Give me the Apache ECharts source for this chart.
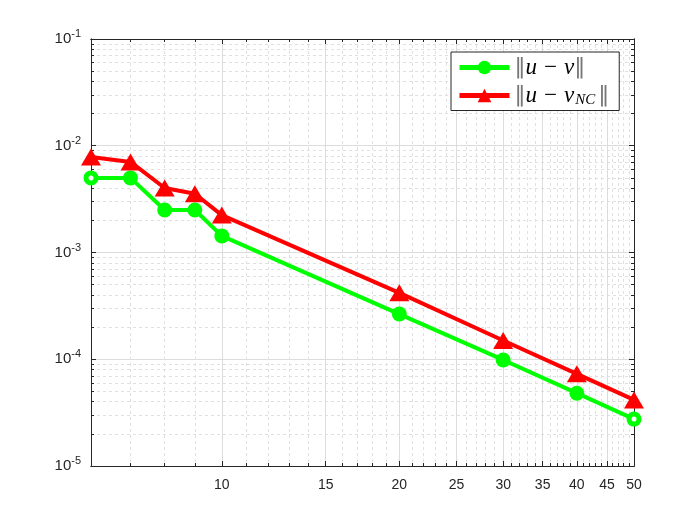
<!DOCTYPE html>
<html><head><meta charset="utf-8">
<script src="https://cdn.jsdelivr.net/npm/echarts@6/dist/echarts.min.js"></script>
<style>html,body{margin:0;padding:0;background:#fff}#c{width:700px;height:525px}</style>
</head><body><div id="c"></div>
<script>
var xValues = [6, 7, 8, 9, 10, 20, 30, 40, 50];
var errUV = [5.0e-3, 5.0e-3, 2.5e-3, 2.5e-3, 1.43e-3, 2.65e-4, 9.85e-5, 4.81e-5, 2.75e-5];
var errUVNC = [7.85e-3, 7.05e-3, 4.02e-3, 3.55e-3, 2.24e-3, 4.19e-4, 1.5e-4, 7.3e-5, 4.16e-5];
var xMajorTicks = [10, 15, 20, 25, 30, 35, 40, 45, 50];
var yMajorTicks = [1e-5, 1e-4, 1e-3, 1e-2, 1e-1];
var seriesNames = ['uv', 'uvnc'];

var xMinorTicks = [];
for (var i = 6; i <= 50; i++) if (xMajorTicks.indexOf(i) < 0) xMinorTicks.push(i);
var yMinorTicks = [];
for (var e = -5; e < -1; e++) for (var m = 2; m <= 9; m++) yMinorTicks.push(m * Math.pow(10, e));

var axisCol = '#262626';
var font = 'Liberation Sans, Arial, sans-serif';

function xAxisDef(pos, major, showLabel) {
  return {
    type: 'log', logBase: 10, min: 6, max: 50, position: pos, gridIndex: 0,
    axisLine: { show: true, onZero: false, lineStyle: { color: axisCol, width: 1 } },
    axisTick: { show: true, inside: true, length: major ? 5 : 3, customValues: major ? xMajorTicks : xMinorTicks, lineStyle: { color: axisCol } },
    axisLabel: showLabel ? { show: true, customValues: xMajorTicks, color: axisCol, fontFamily: font, fontSize: 14, margin: 12,
      formatter: function (v) { return String(Math.round(v)); } } : { show: false },
    splitLine: pos === 'bottom' ? { show: true, lineStyle: major ? { color: '#dcdcdc', width: 1 } : { color: '#e0e0e0', width: 1, type: [3, 3] } } : { show: false },
    minorTick: { show: false }
  };
}
function yAxisDef(pos, major, showLabel) {
  return {
    type: 'log', logBase: 10, min: 1e-5, max: 1e-1, position: pos, gridIndex: 0,
    axisLine: { show: true, onZero: false, lineStyle: { color: axisCol, width: 1 } },
    axisTick: { show: true, inside: true, length: major ? 5 : 3, customValues: major ? yMajorTicks : yMinorTicks, lineStyle: { color: axisCol } },
    axisLabel: showLabel ? { show: true, customValues: yMajorTicks, color: axisCol, fontFamily: font, fontSize: 15, margin: 10,
      formatter: function (v) { return '10{s|' + Math.round(Math.log10(v)) + '}'; },
      rich: { s: { fontSize: 11, fontFamily: font, color: axisCol, padding: [0, 0, 10, 0] } } } : { show: false },
    splitLine: pos === 'left' ? { show: true, lineStyle: major ? { color: '#dcdcdc', width: 1 } : { color: '#e0e0e0', width: 1, type: [3, 3] } } : { show: false },
    minorTick: { show: false }
  };
}

function pts(ys, hollowEnds, col) {
  return xValues.map(function (x, k) {
    var item = { value: [x, ys[k]] };
    if (hollowEnds && (k === 0 || k === xValues.length - 1)) {
      item.symbolSize = 10;
      item.itemStyle = { color: '#fff', borderColor: col, borderWidth: 5 };
    }
    return item;
  });
}

var chart = echarts.init(document.getElementById('c'), null, { renderer: 'canvas' });
chart.setOption({
  animation: false,
  backgroundColor: '#fff',
  grid: { left: 91, right: 66, top: 39, bottom: 59, containLabel: false },
  xAxis: [xAxisDef('bottom', false, false), xAxisDef('bottom', true, true), xAxisDef('top', false, false), xAxisDef('top', true, false)],
  yAxis: [yAxisDef('left', false, false), yAxisDef('left', true, true), yAxisDef('right', false, false), yAxisDef('right', true, false)],
  legend: {
    orient: 'vertical', left: 451, top: 52, itemWidth: 50, itemHeight: 17, itemGap: 5,
    padding: [4, 10, 3, 6], borderColor: axisCol, borderWidth: 1, backgroundColor: '#fff',
    lineStyle: { width: 5 },
    data: seriesNames,
    formatter: function (n) {
      return n === 'uv' ? '{b|‖}{i|u − v}{b|‖}' : '{b|‖}{i|u − v}{sub|NC}{b|‖}';
    },
    textStyle: {
      fontFamily: 'DejaVu Serif, serif', fontSize: 20, color: '#000',
      rich: {
        b: { fontFamily: 'DejaVu Sans', fontSize: 22, color: '#777' },
        i: { fontFamily: 'Liberation Serif, serif', fontStyle: 'italic', fontSize: 23, color: '#000' },
        sub: { fontFamily: 'Liberation Serif, serif', fontStyle: 'italic', fontSize: 15, color: '#000', padding: [9, 3, 0, 1] }
      }
    }
  },
  series: [
    { name: 'uv', type: 'line', xAxisIndex: 1, yAxisIndex: 1, data: pts(errUV, true, '#00ff00'), clip: false,
      symbol: 'circle', symbolSize: 15, lineStyle: { color: '#00ff00', width: 4 }, itemStyle: { color: '#00ff00' }, z: 3 },
    { name: 'uvnc', type: 'line', xAxisIndex: 1, yAxisIndex: 1, data: pts(errUVNC, false, '#ff0000'), clip: false,
      symbol: 'triangle', symbolSize: [20, 17], lineStyle: { color: '#ff0000', width: 4 }, itemStyle: { color: '#ff0000' }, z: 4 }
  ]
});
</script></body></html>
